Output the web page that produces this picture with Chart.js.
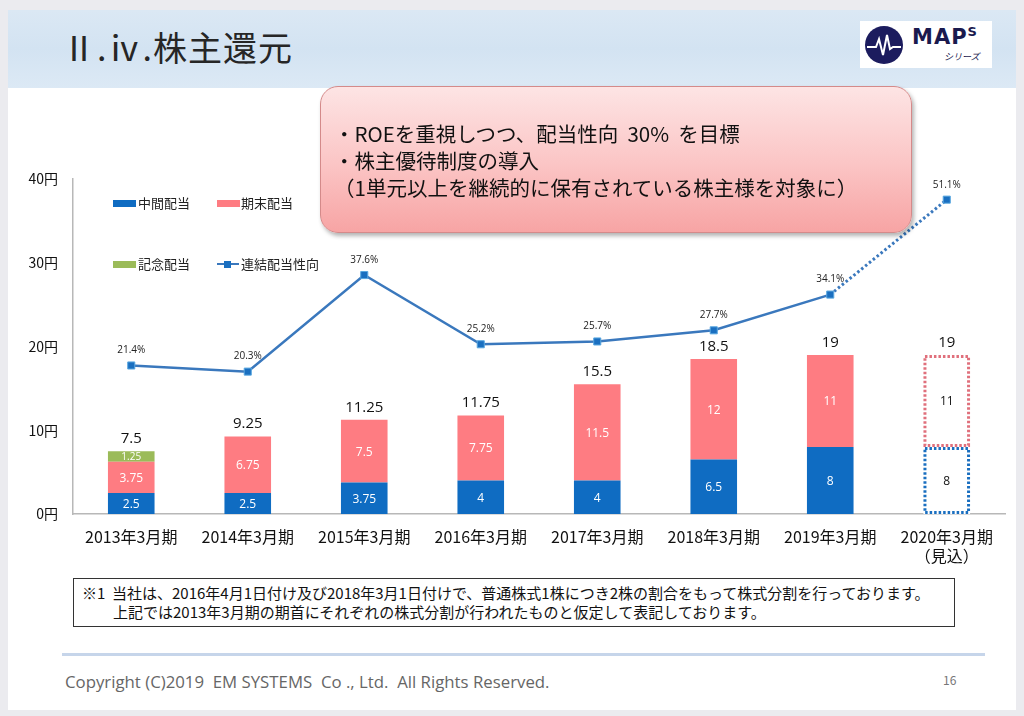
<!DOCTYPE html>
<html lang="ja">
<head>
<meta charset="utf-8">
<script src="https://cdn.jsdelivr.net/npm/chart.js@4/dist/chart.umd.min.js"></script>
<style>
  html, body { margin: 0; padding: 0; }
  body {
    width: 1024px; height: 716px; background: #ebebef; position: relative; overflow: hidden;
    font-family: "Noto Sans CJK JP", "Noto Sans", sans-serif; color: #222;
  }
  .slide { position: absolute; left: 8px; top: 10px; width: 1008px; height: 700px; background: #fff; }
  .header {
    position: absolute; left: 8px; top: 10px; width: 1008px; height: 78px;
    background: linear-gradient(180deg, #dbe8f4 0%, #d3e3f2 50%, #dce9f5 100%);
  }
  .title { position: absolute; left: 62px; top: 22px; font-size: 34px; letter-spacing: 1px; color: #262626; }
  .logo {
    position: absolute; left: 860px; top: 21px; width: 132px; height: 47px; background: #fff;
  }
  .logo svg { position: absolute; left: 4px; top: 4px; }
  .logo .maps { position: absolute; left: 52px; top: 3px; font-family: "DejaVu Sans", sans-serif; font-weight: bold; font-size: 21px; color: #1a1a4e; letter-spacing: 1px; }
  .logo .maps sup { font-size: 13px; }
  .logo .sub { position: absolute; left: 84px; top: 29px; font-size: 9px; font-style: italic; color: #1a1a4e; }
  .callout {
    position: absolute; left: 320px; top: 86px; width: 592px; height: 147px; box-sizing: border-box;
    border-radius: 18px; border: 1px solid #d48a8a;
    background: linear-gradient(180deg, #fde4e4 0%, #fbc4c4 55%, #f7a4a4 100%);
    box-shadow: 2px 3px 4px rgba(0,0,0,0.3);
    padding: 33px 0 0 13px; font-size: 20.5px; line-height: 27px; color: #111; white-space: nowrap;
  }
  #chartWrap { position: absolute; left: 20px; top: 150px; width: 1000px; height: 420px; }
  .legend { position: absolute; font-size: 13px; color: #222; }
  .legend .sw { position: absolute; width: 23px; height: 7px; }
  .legend .tx { position: absolute; white-space: nowrap; }
  .note {
    position: absolute; left: 73px; top: 578px; width: 882px; height: 49px; box-sizing: border-box;
    border: 1px solid #333; font-size: 15px; line-height: 19px; padding: 4px 0 0 8px; color: #111; white-space: nowrap;
  }
  .rule { position: absolute; left: 62px; top: 653px; width: 923px; height: 3px; background: #c6d5ea; }
  .copy { position: absolute; left: 65px; top: 670px; font-size: 16.8px; color: #666; font-family: "Open Sans", "Noto Sans", sans-serif; }
  .page { position: absolute; left: 943px; top: 671px; font-size: 12px; color: #777; }
</style>
</head>
<body>
<div class="slide"></div>
<div class="header"></div>
<div class="title">Ⅱ.ⅳ.株主還元</div>
<div class="logo">
  <svg width="40" height="40" viewBox="0 0 40 40">
    <circle cx="20" cy="20" r="19" fill="#1c1c5e"/>
    <polyline points="3,22 12,22 15,14 19,30 23,10 26,24 29,22 37,22" fill="none" stroke="#fff" stroke-width="2"/>
  </svg>
  <div class="maps">MAP<sup>S</sup></div>
  <div class="sub">シリーズ</div>
</div>

<div id="chartWrap"><canvas id="dividendChart" width="1000" height="420"></canvas></div>

<div class="legend" style="left:0;top:0;">
  <div class="sw" style="left:113px;top:200px;background:#0f6cc2;"></div>
  <div class="tx" style="left:138px;top:193px;">中間配当</div>
  <div class="sw" style="left:217px;top:200px;background:#fe7c82;"></div>
  <div class="tx" style="left:241px;top:193px;">期末配当</div>
  <div class="sw" style="left:113px;top:261px;background:#9bbb59;"></div>
  <div class="tx" style="left:138px;top:254px;">記念配当</div>
  <div class="sw" style="left:217px;top:263px;height:2px;width:22px;background:#3a78bd;"></div>
  <div class="sw" style="left:224px;top:261px;height:7px;width:7px;background:#1a6fc0;"></div>
  <div class="tx" style="left:241px;top:254px;">連結配当性向</div>
</div>

<div class="callout">
  ・ROEを重視しつつ、配当性向&nbsp;&nbsp;30%&nbsp;&nbsp;を目標<br>
  ・株主優待制度の導入<br>
  （1単元以上を継続的に保有されている株主様を対象に）
</div>

<div class="note">
  ※1&nbsp;&nbsp;当社は、2016年4月1日付け及び2018年3月1日付けで、普通株式1株につき2株の割合をもって株式分割を行っております。<br>
  <span style="padding-left:31px;">上記では2013年3月期の期首にそれぞれの株式分割が行われたものと仮定して表記しております。</span>
</div>
<div class="rule"></div>
<div class="copy">Copyright (C)2019&nbsp;&nbsp;EM SYSTEMS&nbsp;&nbsp;Co ., Ltd.&nbsp;&nbsp;All Rights Reserved.</div>
<div class="page">16</div>

<script>
// データ
const categories = ['2013年3月期', '2014年3月期', '2015年3月期', '2016年3月期', '2017年3月期', '2018年3月期', '2019年3月期', ['2020年3月期', '（見込）']];
const interimDiv = [2.5, 2.5, 3.75, 4, 4, 6.5, 8, 8];
const yearEndDiv = [3.75, 6.75, 7.5, 7.75, 11.5, 12, 11, 11];
const commemorativeDiv = [1.25, 0, 0, 0, 0, 0, 0, 0];
const payoutRatio = [21.4, 20.3, 37.6, 25.2, 25.7, 27.7, 34.1, 51.1];
const yTicks = [0, 10, 20, 30, 40];

const forecastIndex = 7;
const blue = '#0f6cc2';
const pink = '#fe7c82';
const green = '#9bbb59';

function colorsFor(base) {
    return categories.map((c, i) => i === forecastIndex ? '#ffffff' : base);
}

// ラベル描画
const labelPlugin = {
    id: 'labelPlugin',
    afterDatasetsDraw(chart) {
        const ctx = chart.ctx;
        ctx.save();
        // 見込みの点線枠
        const borderOrder = [[1, '#e0707c'], [2, green], [0, '#1a6fc0']];
        borderOrder.forEach(([di, col]) => {
            const meta = chart.getDatasetMeta(di);
            const el = meta.data[forecastIndex];
            const v = chart.data.datasets[di].data[forecastIndex];
            if (!el || !v) return;
            ctx.strokeStyle = col;
            ctx.lineWidth = 3;
            ctx.setLineDash([2.5, 2]);
            const l = el.x - el.width / 2 + 1.5, r = el.x + el.width / 2 - 1.5;
            ctx.strokeRect(l, el.y + 1.5, r - l, el.base - el.y - 3);
        });
        ctx.setLineDash([]);

        // 棒の内側の値
        ctx.textAlign = 'center';
        ctx.textBaseline = 'middle';
        [0, 1, 2].forEach(di => {
            const meta = chart.getDatasetMeta(di);
            meta.data.forEach((el, i) => {
                const v = chart.data.datasets[di].data[i];
                if (!v) return;
                ctx.fillStyle = i === forecastIndex ? '#111' : '#fff';
                ctx.font = (di === 2 ? '10px' : '12px') + ' "Open Sans", "Noto Sans", sans-serif';
                ctx.fillText(String(v), el.x, (el.y + el.base) / 2 + 1);
            });
        });

        // 合計
        ctx.fillStyle = '#111';
        ctx.font = '15px "Open Sans", "Noto Sans", sans-serif';
        ctx.textBaseline = 'bottom';
        categories.forEach((c, i) => {
            const total = interimDiv[i] + yearEndDiv[i] + commemorativeDiv[i];
            let top = Infinity, x = 0;
            [0, 1, 2].forEach(di => {
                const el = chart.getDatasetMeta(di).data[i];
                if (chart.data.datasets[di].data[i] && el.y < top) { top = el.y; x = el.x; }
            });
            ctx.fillText(String(total), x, top - 5);
        });

        // 配当性向
        ctx.font = '10px "Open Sans", "Noto Sans", sans-serif';
        ctx.fillStyle = '#222';
        chart.getDatasetMeta(3).data.forEach((pt, i) => {
            ctx.fillText(payoutRatio[i].toFixed(1) + '%', pt.x, pt.y - 10);
        });
        ctx.restore();
    }
};

const chartCtx = document.getElementById('dividendChart').getContext('2d');
const dividendChart = new Chart(chartCtx, {
    data: {
        labels: categories,
        datasets: [
            {
                type: 'bar', label: '中間配当', data: interimDiv, order: 2,
                backgroundColor: colorsFor(blue), borderWidth: 0,
                barPercentage: 0.4, categoryPercentage: 1
            },
            {
                type: 'bar', label: '期末配当', data: yearEndDiv, order: 2,
                backgroundColor: colorsFor(pink), borderWidth: 0,
                barPercentage: 0.4, categoryPercentage: 1
            },
            {
                type: 'bar', label: '記念配当', data: commemorativeDiv, order: 2,
                backgroundColor: colorsFor(green), borderWidth: 0,
                barPercentage: 0.4, categoryPercentage: 1
            },
            {
                type: 'line', label: '連結配当性向', data: payoutRatio, yAxisID: 'y1', order: 0,
                borderColor: '#3a78bd', borderWidth: 2.5,
                pointStyle: 'rect', pointRadius: 5, pointBackgroundColor: '#1a6fc0',
                pointBorderColor: '#5aa8e0', pointBorderWidth: 1,
                segment: {
                    borderDash: c => c.p1DataIndex === forecastIndex ? [2.5, 2.5] : undefined,
                    borderWidth: c => c.p1DataIndex === forecastIndex ? 3 : 2.5
                }
            }
        ]
    },
    options: {
        responsive: false,
        animation: false,
        layout: { padding: { top: 29, right: 15, left: 0, bottom: 0 } },
        plugins: { legend: { display: false }, tooltip: { enabled: false } },
        scales: {
            x: {
                stacked: true,
                grid: { display: false, drawTicks: false },
                border: { color: '#b8b8b8', width: 1.5 },
                ticks: {
                    color: '#111', padding: 13,
                    font: { size: 16, family: '"Noto Sans CJK JP", sans-serif' }
                },
                afterFit: s => { s.height = 56; }
            },
            y: {
                stacked: true, min: 0, max: 40,
                afterBuildTicks: s => { s.ticks = yTicks.map(v => ({ value: v })); },
                grid: { display: false, drawTicks: false },
                border: { color: '#b8b8b8', width: 1.5 },
                ticks: {
                    color: '#111', padding: 15,
                    font: { size: 14, family: '"Noto Sans CJK JP", sans-serif' },
                    callback: v => v + '円'
                },
                afterFit: s => { s.width = 53; }
            },
            y1: { display: false, min: -5.2, max: 54.8 }
        }
    },
    plugins: [labelPlugin]
});
</script>
</body>
</html>
